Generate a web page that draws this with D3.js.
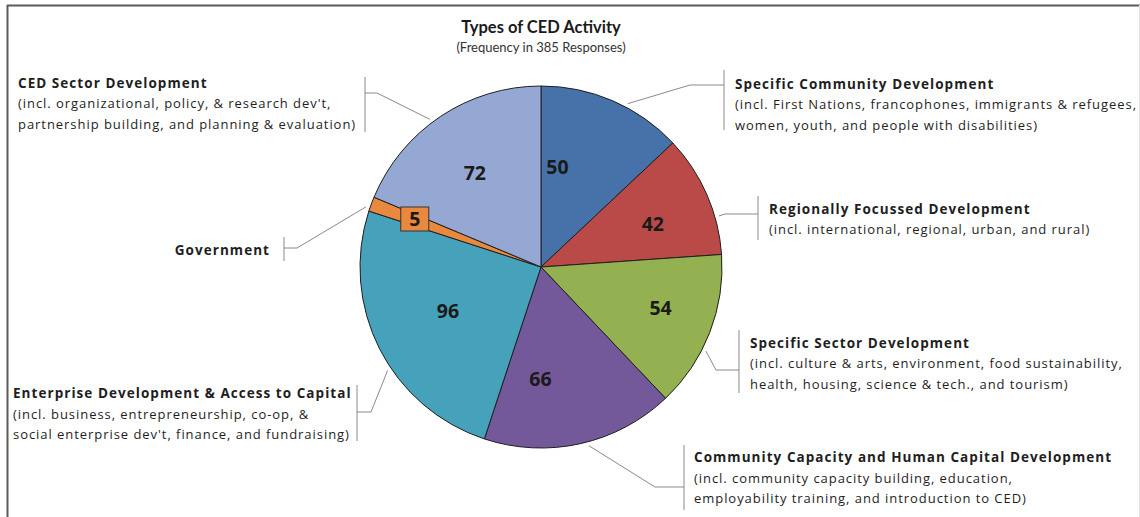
<!DOCTYPE html>
<html><head><meta charset="utf-8">
<script src="https://cdn.jsdelivr.net/npm/d3@7"></script>
<style>html,body{margin:0;padding:0;background:#fff;} svg{display:block}</style>
</head><body><svg id="c" width="1140" height="517"></svg>
<script>
// ---- data ----
const categories = [
  "Specific Community Development",
  "Regionally Focussed Development",
  "Specific Sector Development",
  "Community Capacity and Human Capital Development",
  "Enterprise Development & Access to Capital",
  "Government",
  "CED Sector Development"
];
const values = [50, 42, 54, 66, 96, 5, 72];
const descriptions = [
  ["(incl. First Nations, francophones, immigrants & refugees,", "women, youth, and people with disabilities)"],
  ["(incl. international, regional, urban, and rural)"],
  ["(incl. culture & arts, environment, food sustainability,", "health, housing, science & tech., and tourism)"],
  ["(incl. community capacity building, education,", "employability training, and introduction to CED)"],
  ["(incl. business, entrepreneurship, co-op, &", "social enterprise dev't, finance, and fundraising)"],
  [],
  ["(incl. organizational, policy, & research dev't,", "partnership building, and planning & evaluation)"]
];
const chartTitle = "Types of CED Activity";
const chartSubtitle = "(Frequency in 385 Responses)";

// ---- styles / layout ----
const palette = ["#4771a9", "#ba4a48", "#93b150", "#73599a", "#46a1bb", "#e8893f", "#95a8d3"];
const cx = 541, cy = 267, R = 181;
const lineH = 20.5;
const numberNudge = [[-28, 3], [9, 2], [15, 0], [-25, 2], [7, -7], [-21, -9], [-4, -1]];
const labelLayout = [
  {tx: 735, ty: 88.5, anchor: "start", bx: 724, by0: 70, by1: 130, ey: 85, ex: 690, deg: 28},
  {tx: 769, ty: 213.5, anchor: "start", bx: 758, by0: 196, by1: 240, ey: 214, ex: 725, deg: 74},
  {tx: 750, ty: 347.5, anchor: "start", bx: 739, by0: 330, by1: 393, ey: 370, ex: 716, deg: 117},
  {tx: 694, ty: 462, anchor: "start", bx: 684, by0: 445, by1: 510, ey: 487, ex: 655, deg: 165},
  {tx: 13, ty: 398, anchor: "start", bx: 357, by0: 385, by1: 441, ey: 412, ex: 371, deg: 236},
  {tx: 270, ty: 254.5, anchor: "end", bx: 284, by0: 237, by1: 261, ey: 248, ex: 297, deg: 289},
  {tx: 18, ty: 87.5, anchor: "start", bx: 365, by0: 77, by1: 132, ey: 93, ex: 377, deg: 323}
];
const labelFont = "'Open Sans', sans-serif";

const svg = d3.select("#c");

// frame
svg.append("line").attr("x1", 7).attr("x2", 1140).attr("y1", 5.5).attr("y2", 5.5)
  .attr("stroke", "#5a5a5a").attr("stroke-width", 2);
svg.append("line").attr("x1", 7.5).attr("x2", 7.5).attr("y1", 5).attr("y2", 517)
  .attr("stroke", "#5a5a5a").attr("stroke-width", 2);
svg.append("line").attr("x1", 1139.5).attr("x2", 1139.5).attr("y1", 5).attr("y2", 517)
  .attr("stroke", "#e4e4e4").attr("stroke-width", 1);

// titles
svg.append("text").attr("x", cx).attr("y", 33).attr("text-anchor", "middle")
  .attr("font-family", "Lato, sans-serif").attr("font-weight", "bold").attr("font-size", 16.5)
  .attr("fill", "#1a1a1a").text(chartTitle);
svg.append("text").attr("x", cx).attr("y", 51.5).attr("text-anchor", "middle")
  .attr("font-family", "Lato, sans-serif").attr("font-size", 13)
  .attr("fill", "#333").text(chartSubtitle);

// pie
const pie = d3.pie().sort(null).value(d => d);
const arcs = pie(values);
const arc = d3.arc().innerRadius(0).outerRadius(R);
const labelArc = d3.arc().innerRadius(R * 0.62).outerRadius(R * 0.62);

const g = svg.append("g").attr("transform", `translate(${cx},${cy})`);
g.selectAll("path.slice").data(arcs).join("path")
  .attr("class", "slice")
  .attr("d", arc)
  .attr("fill", (d, i) => palette[i])
  .attr("stroke", "#1f1f1f").attr("stroke-width", 1).attr("stroke-linejoin", "round");

// leader lines + brackets
const lg = svg.append("g").attr("fill", "none").attr("stroke", "#8a8a8a").attr("stroke-width", 1);
labelLayout.forEach((L, i) => {
  const a = L.deg * Math.PI / 180;
  const sx = cx + Math.sin(a) * (R + 4), sy = cy - Math.cos(a) * (R + 4);
  lg.append("path").attr("d", `M${sx},${sy}L${L.ex},${L.ey}L${L.bx},${L.ey}`);
  lg.append("path").attr("d", `M${L.bx},${L.by0}L${L.bx},${L.by1}`);
});

// category labels
labelLayout.forEach((L, i) => {
  const t = svg.append("text").attr("font-family", labelFont).attr("font-size", 13)
    .attr("fill", "#1e1e1e").attr("text-anchor", L.anchor);
  t.append("tspan").attr("x", L.tx).attr("y", L.ty).attr("font-weight", "bold")
    .attr("font-size", 13.5).attr("letter-spacing", 1.05).text(categories[i]);
  descriptions[i].forEach((line, j) => {
    t.append("tspan").attr("x", L.tx).attr("y", L.ty + lineH * (j + 1))
      .attr("letter-spacing", 0.95).text(line);
  });
});

// value labels
arcs.forEach((d, i) => {
  const c = labelArc.centroid(d);
  const x = cx + c[0] + numberNudge[i][0], y = cy + c[1] + numberNudge[i][1];
  if (values[i] < 10) {
    svg.append("rect").attr("x", x - 14).attr("y", y - 12).attr("width", 28).attr("height", 24)
      .attr("fill", palette[i]).attr("stroke", "#333").attr("stroke-width", 1);
  }
  svg.append("text").attr("x", x).attr("y", y).attr("dy", "0.36em").attr("text-anchor", "middle")
    .attr("font-family", labelFont).attr("font-weight", "bold").attr("font-size", 19.5)
    .attr("fill", "#1a1a1a").text(values[i]);
});
</script></body></html>
